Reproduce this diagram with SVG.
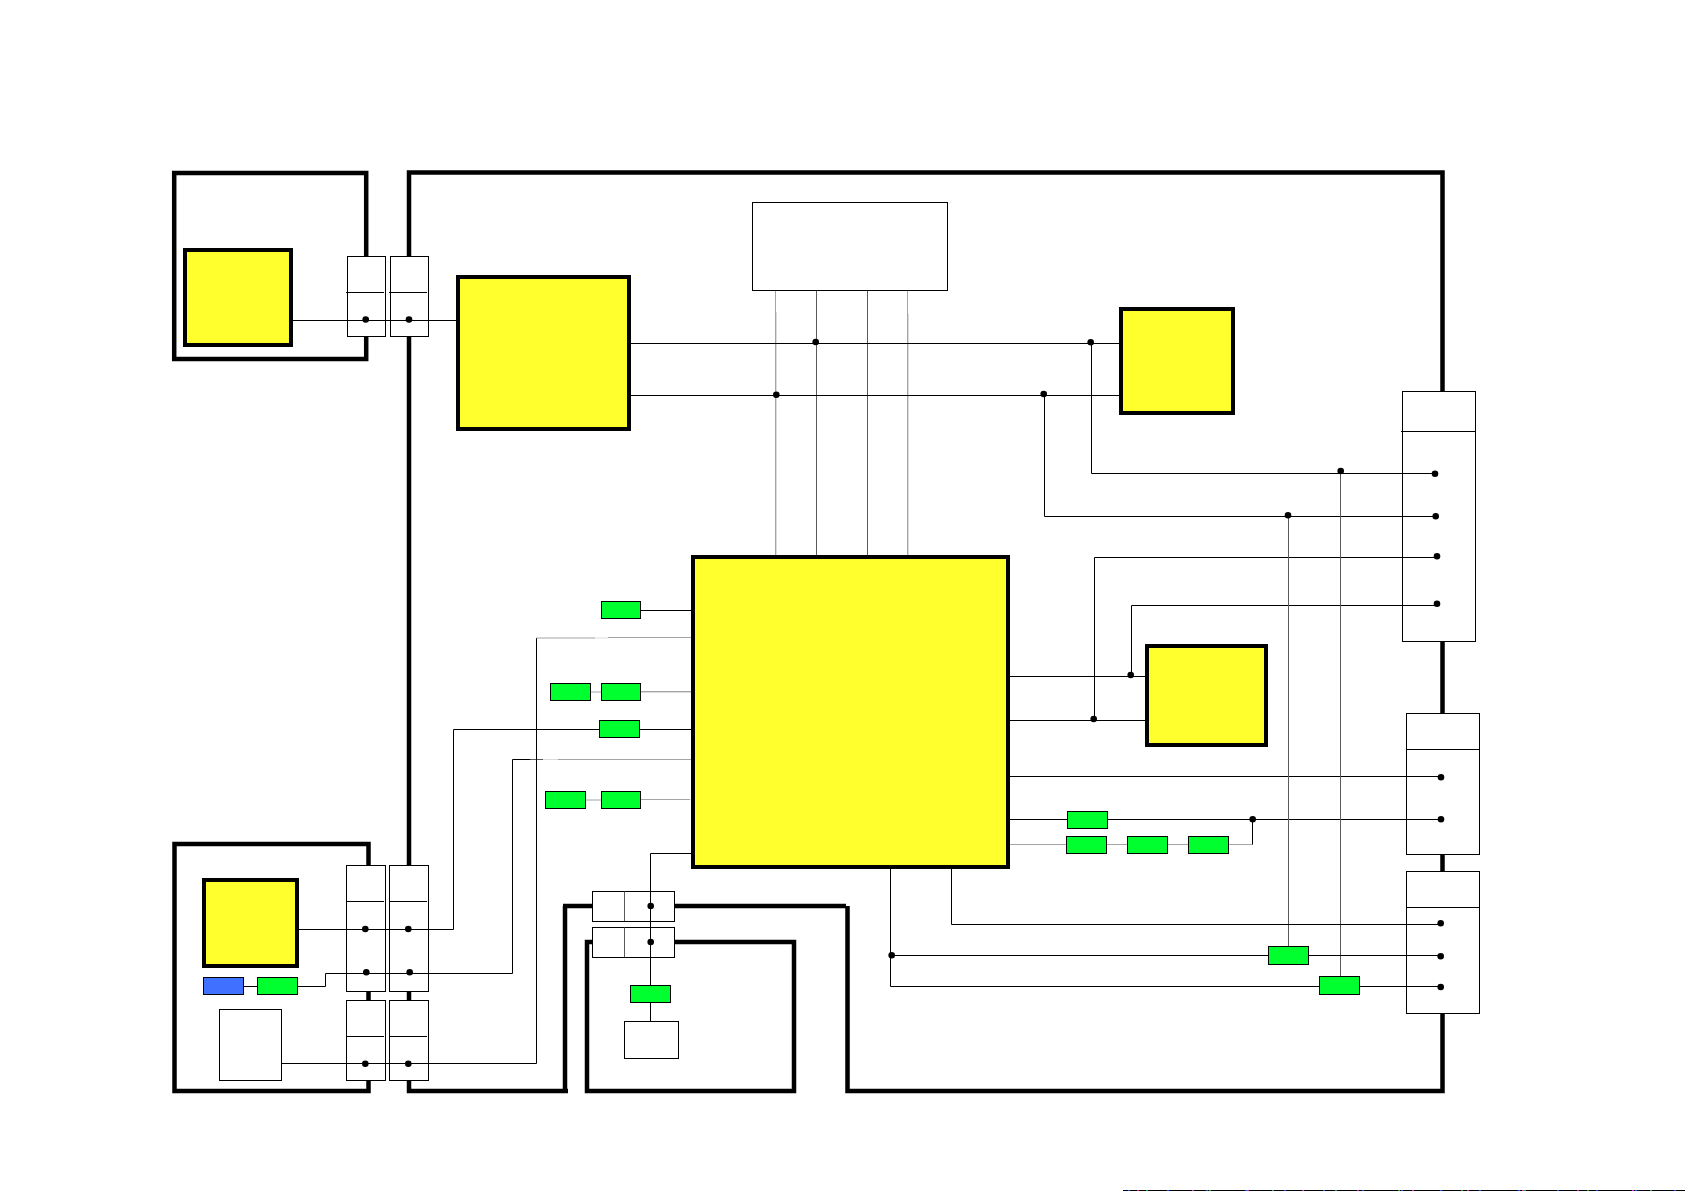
<svg xmlns="http://www.w3.org/2000/svg" width="1685" height="1191" viewBox="0 0 1685 1191">
<style>
.frame{fill:none;stroke:#000;stroke-width:4.5}
.yellow{fill:#ffff2e;stroke:#000;stroke-width:4}
.green{fill:#00ff2e;stroke:#000;stroke-width:1}
.blue{fill:#3f70ff;stroke:#000;stroke-width:1}
.box{fill:#fff;stroke:#000;stroke-width:1}
.div{fill:none;stroke:#000;stroke-width:1}
.wire{fill:none;stroke:#000;stroke-width:1}
.dark{fill:none;stroke:#5a5a5a;stroke-width:1}
.grey{fill:none;stroke:#a4a4a4;stroke-width:1}
.pale{fill:none;stroke:#dcdcdc;stroke-width:1}
.dot{fill:#000}
</style>
<rect width="1685" height="1191" fill="#fff"/>
<g id="frames">
<rect class="frame" x="174.2" y="173" width="192" height="186"/>
<rect class="frame" x="174.5" y="844" width="194" height="247"/>
<path class="frame" d="M568 1091H409V172.5H1442.5V1091H847.5V906"/>
<path class="frame" d="M846 906H563M565 906V1091"/>
<path class="frame" d="M794 942H587V1091H794Z"/>
</g>
<g id="port-a1"><rect class="box" x="347.5" y="256.5" width="38" height="80"/><path class="div" d="M346 292.5H384"/></g>
<g id="port-a2"><rect class="box" x="390.5" y="256.5" width="38" height="80"/><path class="div" d="M389 292.5H427"/></g>
<g id="port-b1"><rect class="box" x="346.5" y="865.5" width="39" height="126"/><path class="div" d="M346.5 901.5H384"/></g>
<g id="port-b2"><rect class="box" x="389.5" y="865.5" width="39" height="126"/><path class="div" d="M389.5 901.5H427"/></g>
<g id="port-c1"><rect class="box" x="346.5" y="1000.5" width="39" height="80"/><path class="div" d="M346.5 1036.5H384"/></g>
<g id="port-c2"><rect class="box" x="389.5" y="1000.5" width="39" height="80"/><path class="div" d="M389.5 1036.5H427"/></g>
<g id="port-d1"><rect class="box" x="592.5" y="891.5" width="82" height="30"/><path class="dark" d="M624.5 891.5V921"/></g>
<g id="port-d2"><rect class="box" x="592.5" y="927.5" width="82" height="30"/><path class="dark" d="M624.5 927.5V957"/></g>
<g id="port-e"><rect class="box" x="1402.5" y="391.5" width="73" height="250"/><path class="div" d="M1401 431.5H1475"/></g>
<g id="port-f"><rect class="box" x="1406.5" y="713.5" width="73" height="141"/><path class="div" d="M1406.5 749.5H1479.5"/></g>
<g id="port-g"><rect class="box" x="1406.5" y="871.5" width="73" height="142"/><path class="div" d="M1406.5 907.5H1479.5"/></g>
<g id="connectors">
<path class="grey" d="M775.5 290.5V555"/><path class="pale" d="M776.5 312V555"/>
<path class="dark" d="M816.5 290.5V555"/>
<path class="dark" d="M867.5 290.5V555"/>
<path class="grey" d="M907.5 290.5V555"/><path class="pale" d="M908.5 314V555"/>
<path class="wire" d="M293 320.5H456"/>
<path class="wire" d="M631 343.5H1119"/>
<path class="wire" d="M631 395.5H1119"/>
<path class="wire" d="M1091.5 343.5V473.5H1435"/>
<path class="wire" d="M1044.5 395.5V516.5H1435"/>
<path class="wire" d="M1010 720.5H1145"/>
<path class="wire" d="M1010 676.5H1145"/>
<path class="wire" d="M1094.5 720.5V557.5H1437"/>
<path class="wire" d="M1131.5 676.5V605.5H1437"/>
<path class="wire" d="M1010 776.5H1441"/>
<path class="wire" d="M1010 819.5H1441"/>
<path class="grey" d="M1010 844.5H1252.5"/>
<path class="wire" d="M1252.5 819.5V844.5"/>
<path class="dark" d="M1288.5 516V946.5"/>
<path class="dark" d="M1340.5 471V976.5"/>
<path class="wire" d="M951.5 869V924.5H1441"/>
<path class="wire" d="M890.5 869V986.5H1441"/>
<path class="wire" d="M891 955.5H1441"/>
<path class="wire" d="M650.5 1021.5V853.5H691"/>
<path class="wire" d="M640 610.5H691"/>
<path class="wire" d="M299 929.5H453.5V729.5H692"/>
<path class="wire" d="M297.5 986.5H325.5V973.5H512.5V759.5H530"/>
<path class="dark" d="M530 759.5H543"/>
<path class="pale" d="M543 759.5H558"/>
<path class="grey" d="M558 759.5H691"/>
<path class="wire" d="M281.5 1063.5H536.5V638"/>
<path class="grey" d="M536.5 638H595"/><path class="pale" d="M595 638H608"/><path class="grey" d="M608 637.5H691"/>
<path class="grey" d="M590.5 692H601.5"/><path class="grey" d="M640.5 691.5H691"/><path class="pale" d="M640.5 692.5H691"/>
<path class="grey" d="M585.5 800H601.5"/><path class="grey" d="M640.5 799.5H690"/>
<path class="wire" d="M243.5 986.5H257.5"/>
<g class="dot">
<circle cx="365.7" cy="319.5" r="3.3"/><circle cx="409" cy="319.5" r="3.3"/>
<circle cx="815.7" cy="342" r="3.3"/><circle cx="776.3" cy="394.7" r="3.3"/>
<circle cx="1090.7" cy="342.3" r="3.3"/><circle cx="1043.7" cy="394" r="3.3"/>
<circle cx="1130.7" cy="675" r="3.3"/><circle cx="1093.7" cy="719" r="3.3"/>
<circle cx="1340.7" cy="471" r="3.3"/><circle cx="1288" cy="515.3" r="3.3"/>
<circle cx="1435" cy="473.7" r="3.3"/><circle cx="1435.7" cy="516.3" r="3.3"/>
<circle cx="1437" cy="556.3" r="3.3"/><circle cx="1437" cy="603.7" r="3.3"/>
<circle cx="1441" cy="777.3" r="3.3"/><circle cx="1441" cy="819.3" r="3.3"/><circle cx="1252.7" cy="819.3" r="3.3"/>
<circle cx="1440.7" cy="923.3" r="3.3"/><circle cx="1440.7" cy="956.3" r="3.3"/><circle cx="1440.7" cy="987" r="3.3"/>
<circle cx="891.7" cy="955.3" r="3.3"/>
<circle cx="365.3" cy="929" r="3.3"/><circle cx="408.3" cy="929" r="3.3"/>
<circle cx="366.3" cy="972.3" r="3.3"/><circle cx="409.7" cy="972.3" r="3.3"/>
<circle cx="365.3" cy="1063.7" r="3.3"/><circle cx="408.3" cy="1063.7" r="3.3"/>
<circle cx="650.7" cy="906" r="3.3"/><circle cx="650.7" cy="942" r="3.3"/>
</g>
</g>
<g id="node-y1"><rect class="yellow" x="185" y="250" width="106" height="95"/></g>
<g id="node-y2"><rect class="yellow" x="458" y="277" width="171" height="152"/></g>
<g id="node-y3"><rect class="yellow" x="1121" y="309" width="112" height="104"/></g>
<g id="node-y4"><rect class="yellow" x="693" y="557" width="315" height="310"/></g>
<g id="node-y5"><rect class="yellow" x="1147" y="646" width="119" height="99"/></g>
<g id="node-y6"><rect class="yellow" x="204" y="880" width="93" height="86"/></g>
<g id="node-top"><rect class="box" x="752.5" y="202.5" width="195" height="88"/></g>
<g id="node-w1"><rect class="box" x="219.5" y="1009.5" width="62" height="71"/></g>
<g id="node-w2"><rect class="box" x="624.5" y="1021.5" width="54" height="37"/></g>
<g id="node-b1"><rect class="blue" x="203.5" y="977.5" width="40" height="17"/></g>
<g id="node-g1"><rect class="green" x="257.5" y="977.5" width="40" height="17"/></g>
<g id="node-g2"><rect class="green" x="601.5" y="601.5" width="39" height="17"/></g>
<g id="node-g3"><rect class="green" x="550.5" y="683.5" width="40" height="17"/></g>
<g id="node-g4"><rect class="green" x="601.5" y="683.5" width="39" height="17"/></g>
<g id="node-g5"><rect class="green" x="599.5" y="720.5" width="40" height="17"/></g>
<g id="node-g6"><rect class="green" x="545.5" y="791.5" width="40" height="17"/></g>
<g id="node-g7"><rect class="green" x="601.5" y="791.5" width="39" height="17"/></g>
<g id="node-g8"><rect class="green" x="630.5" y="985.5" width="40" height="17"/></g>
<g id="node-g9"><rect class="green" x="1067.5" y="811.5" width="40" height="17"/></g>
<g id="node-g10"><rect class="green" x="1066.5" y="836.5" width="40" height="17"/></g>
<g id="node-g11"><rect class="green" x="1127.5" y="836.5" width="40" height="17"/></g>
<g id="node-g12"><rect class="green" x="1188.5" y="836.5" width="40" height="17"/></g>
<g id="node-g13"><rect class="green" x="1268.5" y="946.5" width="40" height="18"/></g>
<g id="node-g14"><rect class="green" x="1319.5" y="976.5" width="40" height="18"/></g>
<g id="edge-noise" fill="none" stroke-width="1">
<path d="M1123 1190.5H1685" stroke="#000"/>
<path d="M1128 1190.5H1685" stroke="#2050ff" stroke-dasharray="2 37"/>
<path d="M1137 1190.5H1685" stroke="#e020c0" stroke-dasharray="2 53"/>
<path d="M1146 1190.5H1685" stroke="#20a040" stroke-dasharray="2 61"/>
</g>
</svg>
